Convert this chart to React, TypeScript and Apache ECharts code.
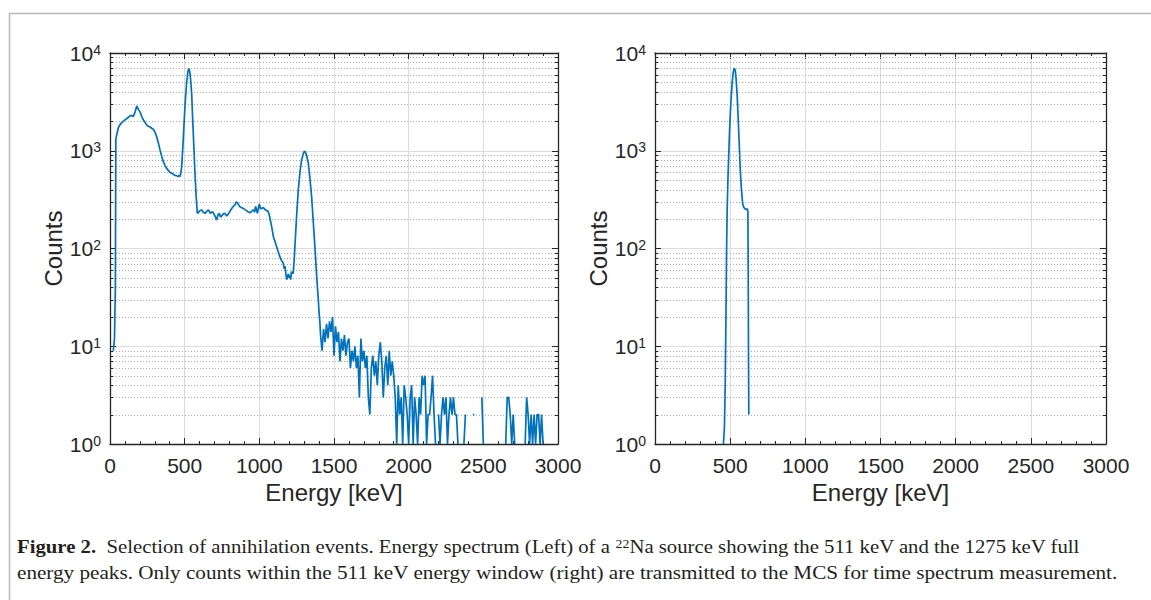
import React, { useEffect, useRef } from 'react';
import * as echarts from 'echarts';

// ---------- axis ticks ----------
const xMin = 0;
const xMax = 3000;
const xInterval = 500;
const yMin = 1;
const yMax = 10000;
const yMinorValues = [
  2, 3, 4, 5, 6, 7, 8, 9,
  20, 30, 40, 50, 60, 70, 80, 90,
  200, 300, 400, 500, 600, 700, 800, 900,
  2000, 3000, 4000, 5000, 6000, 7000, 8000, 9000,
];

// ---------- left spectrum (full energy spectrum) ----------
const leftEnergy = [
  22, 30, 36, 39, 45, 55, 67, 80, 100, 115, 134, 145, 156, 168, 179, 190, 201, 212, 223, 235,
  245, 257, 268, 279, 290, 301, 312, 324, 335, 346, 357, 368, 379, 390, 402, 413, 424, 435, 446, 457,
  464, 469, 475, 480, 488, 496, 504, 513, 520, 527, 534, 540, 547, 553, 561, 569, 577, 585, 591, 603,
  614, 625, 636, 648, 659, 667, 674, 683, 692, 703, 714, 723, 732, 740, 748, 759, 770, 781, 792, 803,
  815, 826, 837, 845, 853, 861, 870, 881, 893, 904, 915, 926, 937, 948, 960, 968, 975, 981, 987, 994,
  1000, 1008, 1016, 1027, 1038, 1049, 1060, 1068, 1076, 1085, 1094, 1105, 1116, 1127, 1138, 1149, 1160, 1167, 1172, 1178,
  1183, 1189, 1195, 1200, 1205, 1210, 1215, 1221, 1227, 1233, 1238, 1244, 1250, 1261, 1272, 1283, 1294, 1300, 1305, 1311,
  1316, 1322, 1328, 1339, 1350, 1361, 1372, 1383, 1390, 1395, 1400, 1405,
];
const leftCounts = [
  9, 12, 40, 1300, 1450, 1700, 1850, 1950, 2070, 2150, 2270, 2300, 2230, 2500, 2870, 2650, 2500, 2250, 2070, 1950,
  1840, 1780, 1750, 1700, 1660, 1550, 1400, 1200, 1020, 880, 775, 710, 660, 630, 600, 590, 575, 560, 555, 545,
  560, 545, 600, 690, 1100, 1910, 3200, 4900, 6200, 6970, 6500, 5300, 3800, 2220, 1150, 590, 340, 229, 232, 245,
  248, 235, 229, 240, 248, 235, 229, 238, 232, 215, 196, 220, 229, 210, 215, 226, 229, 215, 225, 240,
  257, 270, 279, 300, 294, 280, 268, 262, 257, 250, 244, 236, 232, 240, 248, 235, 270, 250, 229, 260,
  285, 255, 257, 262, 250, 245, 238, 215, 188, 160, 132, 118, 104, 92, 82, 75, 71, 62, 66, 55,
  48, 52, 55, 50, 53, 48, 58, 56, 56, 75, 104, 150, 220, 398, 600, 804, 930, 980, 985, 950,
  900, 820, 745, 520, 339, 190, 104, 55, 38, 30, 22, 18,
];
// noisy tail, one value per 10 keV channel from 1410 keV (null = no counts)
const tailStart = 1410;
const tailStep = 10;
const tailCounts = [
  13, 9, 15, 11, 17, 12, 18, 14, 20,
  8, 16, 11, 14, 7, 12, 9, 13, 8, 11,
  12, 6, 9, 7, 10, 6, 8, 3, 12, 7,
  9, 6, 8, 3, 2, 6, 8, 5, 7, 4,
  8, 11, 7, 3, 6, 8, 4, 9, 5, 7,
  5, 3, 1, 4, 2, 3, 1, 4, 3, 2,
  1, 3, 4, 1, 3, 2, 1, 3, 2, 5,
  4, 5, 1, 2, 2, 3, 5, 2, 1, null,
  2, 1, 2, 3, 2, 3, 1, 2, 3, 2,
  3, 2, 2, 1, null, 2, null, 1, 2, null,
  null, null, null, 2, 2, null, null, null, null, 3,
  1, null, null, null, null, null, null, null, null, null,
  null, null, null, 1, null, 1, 3, 3, 2, 1,
  2, 1, null, null, null, null, null, null, 1, 3,
  2, 1, 2, 1, 2, 1, 2, 2, 1, 2,
  1,
];

// ---------- right spectrum (511 keV window) ----------
const rightEnergy = [
  455, 462, 467, 472, 476, 480, 485, 490, 496, 504, 513, 520, 527, 534, 540, 547, 553, 560, 567, 575,
  583, 590, 598, 606, 614, 618, 620, 622, 624,
];
const rightCounts = [
  1, 1.5, 4, 20, 90, 250, 500, 850, 1600, 3000, 4900, 6300, 7000, 6600, 5300, 3600, 2200, 1200, 650, 400,
  290, 265, 255, 250, 255, 240, 60, 8, 2,
];

const xLabel = 'Energy [keV]';
const yLabel = 'Counts';
const captionLine1 =
  '{b|Figure 2.}  Selection of annihilation events. Energy spectrum (Left) of a {sup|22}Na source showing the 511 keV and the 1275 keV full';
const captionLine2 =
  'energy peaks. Only counts within the 511 keV energy window (right) are transmitted to the MCS for time spectrum measurement.';

const AX = '#262626';
const FONT = 'Liberation Sans, Arial, Helvetica, sans-serif';
const SERIF = 'Liberation Serif, Times New Roman, serif';
const BLUE = '#0072BD';
const CAP = '#231f20';

function buildLeftData(): (number | null)[][] {
  const d: (number | null)[][] = leftEnergy.map((e, i) => [e, leftCounts[i]]);
  tailCounts.forEach((c, i) => d.push([tailStart + i * tailStep, c]));
  return d;
}

function buildRightData(): (number | null)[][] {
  return rightEnergy.map((e, i) => [e, rightCounts[i]]);
}

function xAxes(g: number) {
  const common = {
    gridIndex: g,
    type: 'value',
    min: xMin,
    max: xMax,
    interval: xInterval,
    axisLine: { show: true, onZero: false, lineStyle: { color: AX, width: 1.3 } },
    axisTick: { show: true, inside: true, length: 6, lineStyle: { color: AX, width: 1 } },
    minorTick: { show: true, splitNumber: 5, length: 3, lineStyle: { color: AX, width: 1 } },
  };
  return [
    {
      ...common,
      position: 'bottom',
      axisLabel: {
        show: true,
        color: AX,
        fontSize: 21,
        fontFamily: FONT,
        margin: 11,
        formatter: (v: number) => String(v),
      },
      splitLine: { show: true, lineStyle: { color: '#dcdcdc', width: 1 } },
      name: xLabel,
      nameLocation: 'middle',
      nameGap: 36,
      nameTextStyle: { color: AX, fontSize: 24, fontFamily: FONT },
    },
    {
      ...common,
      position: 'top',
      axisLabel: { show: false },
      splitLine: { show: false },
    },
  ];
}

function yAxes(g: number) {
  const common = {
    gridIndex: g,
    type: 'log',
    logBase: 10,
    min: yMin,
    max: yMax,
    axisLine: { show: true, onZero: false, lineStyle: { color: AX, width: 1.3 } },
    axisTick: { show: true, inside: true, length: 6, lineStyle: { color: AX, width: 1 } },
  };
  return [
    {
      ...common,
      position: 'left',
      axisLabel: {
        show: true,
        margin: 9,
        formatter: (v: number) => '{b|10}{s|' + Math.round(Math.log10(v)) + '}',
        rich: {
          b: { fontSize: 21, lineHeight: 21, color: AX, fontFamily: FONT, verticalAlign: 'bottom' },
          s: { fontSize: 14, lineHeight: 14, color: AX, fontFamily: FONT, verticalAlign: 'top', padding: [0, 0, 12, 0] },
        },
      },
      splitLine: { show: true, lineStyle: { color: '#dcdcdc', width: 1 } },
      name: yLabel,
      nameLocation: 'middle',
      nameGap: 44,
      nameRotate: 90,
      nameTextStyle: { color: AX, fontSize: 24, fontFamily: FONT },
    },
    {
      ...common,
      position: 'right',
      axisLabel: { show: false },
      splitLine: { show: false },
    },
  ];
}

function minorSeries(g: number) {
  return {
    type: 'custom',
    xAxisIndex: g * 2,
    yAxisIndex: g * 2,
    silent: true,
    z: 1,
    data: yMinorValues.map((v) => [xMin, v]),
    encode: { x: 0, y: 1 },
    renderItem: (_params: any, api: any) => {
      const v = api.value(1);
      const a = api.coord([xMin, v]);
      const b = api.coord([xMax, v]);
      const y = Math.round(a[1]) + 0.5;
      return {
        type: 'group',
        children: [
          { type: 'line', shape: { x1: a[0], y1: y, x2: b[0], y2: y }, style: { stroke: '#a9a9a9', lineWidth: 1, lineDash: [1, 2] } },
          { type: 'line', shape: { x1: a[0], y1: y, x2: a[0] + 3, y2: y }, style: { stroke: AX, lineWidth: 1 } },
          { type: 'line', shape: { x1: b[0] - 3, y1: y, x2: b[0], y2: y }, style: { stroke: AX, lineWidth: 1 } },
        ],
      };
    },
  };
}

function lineSeries(g: number, data: (number | null)[][]) {
  return {
    type: 'line',
    xAxisIndex: g * 2,
    yAxisIndex: g * 2,
    data,
    showSymbol: false,
    symbol: 'none',
    connectNulls: false,
    clip: true,
    z: 3,
    lineStyle: { color: BLUE, width: 1.7 },
  };
}

export default function App() {
  const ref = useRef<HTMLDivElement>(null);
  useEffect(() => {
    if (!ref.current) return;
    const chart = echarts.init(ref.current, undefined, { renderer: 'svg' });
    chart.setOption({
      animation: false,
      backgroundColor: '#ffffff',
      grid: [
        { left: 110, top: 53, width: 448, height: 391 },
        { left: 655, top: 53, width: 451, height: 391 },
      ],
      xAxis: [...xAxes(0), ...xAxes(1)],
      yAxis: [...yAxes(0), ...yAxes(1)],
      series: [
        minorSeries(0),
        minorSeries(1),
        lineSeries(0, buildLeftData()),
        lineSeries(1, buildRightData()),
      ],
      graphic: [
        {
          type: 'rect',
          silent: true,
          shape: { x: 9.5, y: 13.5, width: 1200, height: 700 },
          style: { fill: 'none', stroke: '#b8b8b8', lineWidth: 1.5 },
        },
        {
          type: 'text',
          x: 17,
          y: 547,
          scaleX: 1.153,
          silent: true,
          style: {
            text: captionLine1,
            fontSize: 18,
            fontFamily: SERIF,
            fill: CAP,
            verticalAlign: 'middle',
            rich: {
              b: { fontSize: 18, lineHeight: 18, fontFamily: SERIF, fontWeight: 'bold', fill: CAP, verticalAlign: 'bottom' },
              t: { fontSize: 18, lineHeight: 18, fontFamily: SERIF, fill: CAP, verticalAlign: 'bottom' },
              sup: { fontSize: 12, lineHeight: 12, fontFamily: SERIF, fill: CAP, verticalAlign: 'top', padding: [0, 0, 12, 0] },
            },
          },
        },
        {
          type: 'text',
          x: 17,
          y: 573,
          scaleX: 1.177,
          silent: true,
          style: {
            text: captionLine2,
            fontSize: 18,
            fontFamily: SERIF,
            fill: CAP,
            verticalAlign: 'middle',
          },
        },
      ],
    });
    return () => chart.dispose();
  }, []);
  return (
    <div
      ref={ref}
      style={{ position: 'absolute', left: 0, top: 0, width: 1151, height: 600 }}
    />
  );
}
